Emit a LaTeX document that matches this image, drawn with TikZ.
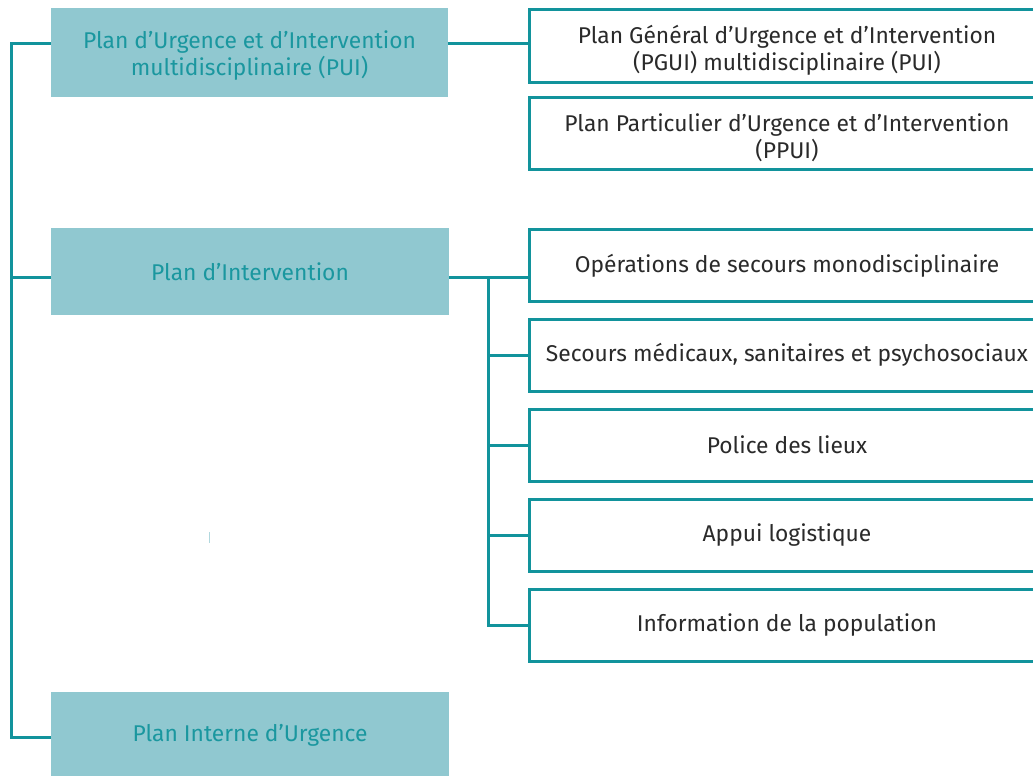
\documentclass[tikz,border=0pt]{standalone}
\usepackage{fontspec}
\setmainfont{Fira Sans}
\definecolor{teal1}{HTML}{12939C}
\definecolor{fillb}{HTML}{90C8D0}
\definecolor{txtt}{HTML}{1A979F}
\definecolor{txtd}{HTML}{2A2A2A}
\tikzset{
  mainbox/.style={fill=fillb, draw=none, text=txtt, align=center, inner sep=0pt, font=\fontsize{22.8}{27}\selectfont},
  subbox/.style={draw=teal1, line width=3pt, fill=white, text=txtd, align=center, inner sep=0pt, minimum width=516pt, minimum height=72pt, font=\fontsize{22.8}{27}\selectfont},
  link/.style={draw=teal1, line width=3pt}
}
\begin{document}
\begin{tikzpicture}[x=1pt,y=-1pt]
\useasboundingbox (0,0) rectangle (1033,776);
\clip (0,0) rectangle (1033,776);
% main boxes
\node[mainbox, minimum width=397pt, minimum height=89pt] (b1) at (249.5,52.5) {\rule{0pt}{23.5pt}Plan d’Urgence et d’Intervention\\multidisciplinaire (PUI)};
\node[mainbox, minimum width=398pt, minimum height=87pt] (b2) at (250,271.5) {Plan d’Intervention};
\node[mainbox, minimum width=398pt, minimum height=86pt] (b3) at (250,735) {Plan Interne d’Urgence};
% sub boxes
\node[subbox] (r1) at (787,46) {\rule{0pt}{26.5pt}Plan Général d’Urgence et d’Intervention\\(PGUI) multidisciplinaire (PUI)};
\node[subbox] (r2) at (787,133.5) {\rule{0pt}{26.5pt}Plan Particulier d’Urgence et d’Intervention\\(PPUI)};
\node[subbox] (s1) at (787,265) {\rule{0pt}{19pt}Opérations de secours monodisciplinaire};
\node[subbox] (s2) at (787,355) {Secours médicaux, sanitaires et psychosociaux};
\node[subbox] (s3) at (787,445) {Police des lieux};
\node[subbox] (s4) at (787,535) {Appui logistique};
\node[subbox] (s5) at (787,625) {Information de la population};
% coordinates
\coordinate (L1) at (11,44);
\coordinate (L2) at (11,277);
\coordinate (L3) at (11,737);
\coordinate (t1) at (488,277);
% left trunk
\draw[link, line join=miter] (b1.west |- L1) -- (L1) -- (L3) -- (b3.west |- L3);
\draw[link] (L2) -- (b2.west |- L2);
% PUI to PGUI
\draw[link] (b1.east |- L1) -- (r1.west |- L1);
% Plan d'Intervention branches
\draw[link] (b2.east |- t1) -- (s1.west |- t1);
\draw[link, line join=miter] (t1) -- (t1 |- s5.west) -- (s5.west);
\draw[link] (t1 |- s2.west) -- (s2.west);
\draw[link] (t1 |- s3.west) -- (s3.west);
\draw[link] (t1 |- s4.west) -- (s4.west);
% faint mark
\draw[fillb!70, line width=0.8pt] (209.5,532) -- (209.5,543);
\end{tikzpicture}
\end{document}
